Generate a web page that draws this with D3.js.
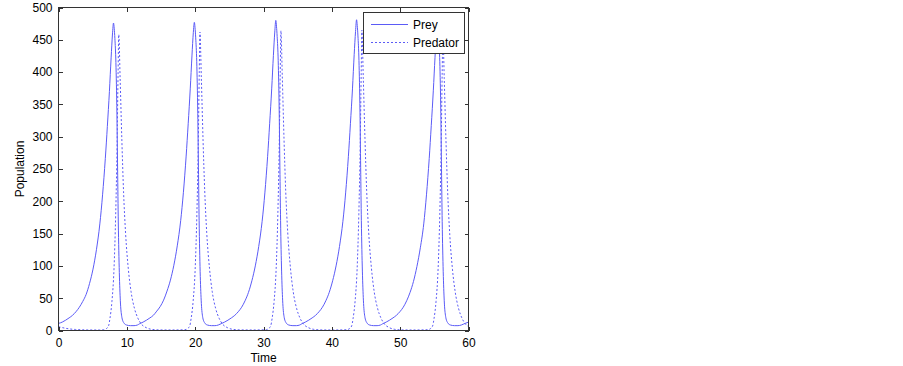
<!DOCTYPE html>
<html>
<head>
<meta charset="utf-8">
<script src="https://d3js.org/d3.v7.min.js"></script>
<style>
  body { margin: 0; background: #fff; }
  text { font-family: "Liberation Sans", Arial, sans-serif; font-size: 12px; fill: #000; }
</style>
</head>
<body>
<script>
// values: [time, population]
const prey = [
  [0, 11], [0.55, 13], [1.05, 16], [1.55, 19.5], [2.05, 23.5], [2.55, 29], [3.05, 36], [3.55, 45],
  [4.05, 56], [4.55, 73], [5.05, 95], [5.55, 125], [6.05, 165], [6.45, 210], [6.85, 266], [7.15, 316],
  [7.45, 370], [7.7, 422], [7.9, 459], [8.05, 476], [8.15, 468], [8.25, 452], [8.4, 415], [8.55, 335],
  [8.65, 250], [8.75, 168], [8.9, 90], [9.05, 46], [9.25, 22], [9.55, 12], [9.95, 8.5], [10.55, 7.5],
  [11.05, 7.5], [11.55, 8.5],
  [11.88, 10.5], [12.38, 13], [12.88, 16], [13.38, 19.5], [13.88, 23.5], [14.38, 30], [14.88, 37], [15.38, 47],
  [15.88, 61], [16.38, 78], [16.88, 101], [17.38, 131], [17.88, 170], [18.28, 214], [18.68, 270], [18.98, 320],
  [19.28, 374], [19.53, 425], [19.73, 461], [19.88, 477], [19.98, 469], [20.08, 453], [20.23, 416], [20.38, 336],
  [20.48, 252], [20.58, 170], [20.73, 91], [20.88, 47], [21.08, 22], [21.38, 12], [21.78, 8.5], [22.38, 7.5],
  [22.88, 7.5], [23.38, 8.5],
  [23.8, 10.5], [24.3, 13], [24.8, 16], [25.3, 19.5], [25.8, 23.5], [26.3, 29], [26.8, 36], [27.3, 46],
  [27.8, 59], [28.3, 77], [28.8, 100], [29.3, 130], [29.8, 169], [30.2, 213], [30.6, 269], [30.9, 320],
  [31.2, 374], [31.45, 426], [31.65, 462], [31.8, 480], [31.9, 471], [32.0, 455], [32.15, 418], [32.3, 338],
  [32.4, 252], [32.5, 170], [32.65, 92], [32.8, 47], [33.0, 22], [33.3, 12], [33.7, 8.5], [34.3, 7.5],
  [34.8, 7.5], [35.3, 8.5],
  [35.62, 10.5], [36.12, 13], [36.62, 16], [37.12, 19.5], [37.62, 23.5], [38.12, 29], [38.62, 36], [39.12, 46],
  [39.62, 59], [40.12, 77], [40.62, 100], [41.12, 130], [41.62, 169], [42.02, 213], [42.42, 269], [42.72, 320],
  [43.02, 374], [43.27, 427], [43.47, 463], [43.62, 481], [43.72, 472], [43.82, 456], [43.97, 418], [44.12, 338],
  [44.22, 252], [44.32, 170], [44.47, 92], [44.62, 47], [44.82, 22], [45.12, 12], [45.52, 8.5], [46.12, 7.5],
  [46.62, 7.5], [47.12, 8.5],
  [47.45, 10.5], [47.95, 13], [48.45, 16], [48.95, 19.5], [49.45, 23.5], [49.95, 29], [50.45, 36], [50.95, 46],
  [51.45, 59], [51.95, 76], [52.45, 99], [52.95, 128], [53.45, 165], [53.85, 210], [54.25, 266], [54.55, 317],
  [54.85, 371], [55.1, 423], [55.3, 459], [55.45, 478], [55.55, 469], [55.65, 453], [55.8, 416], [55.95, 336],
  [56.05, 251], [56.15, 169], [56.3, 91], [56.45, 46], [56.65, 22], [56.95, 12], [57.35, 8.5], [57.95, 7.5],
  [58.45, 7.5], [58.95, 8.5], [59.5, 11], [60, 13]
];

const predator = [
  [0, 6], [0.5, 4.6], [1, 3.5], [1.5, 2.6], [2, 2], [2.5, 1.6], [3, 1.3], [3.5, 1.1],
  [4.2, 0.9], [5, 0.8], [6, 0.8], [6.62, 1.2], [7.02, 3], [7.32, 7], [7.52, 18], [7.82, 45],
  [8.12, 95], [8.37, 180], [8.57, 285], [8.72, 400], [8.82, 458], [9.02, 390], [9.27, 295], [9.52, 215],
  [9.82, 150], [10.22, 95], [10.62, 60], [11.12, 34], [11.62, 19], [12.12, 10], [12.82, 4.5], [13.62, 1.8],
  [14.82, 0.9], [16.5, 0.8],
  [18.5, 1.2], [18.9, 3], [19.2, 7], [19.4, 18], [19.7, 45], [20.0, 95], [20.25, 180], [20.45, 285],
  [20.6, 400], [20.7, 462], [20.9, 392], [21.15, 296], [21.4, 216], [21.7, 150], [22.1, 96], [22.5, 60],
  [23.0, 34], [23.5, 19], [24.0, 10], [24.7, 4.5], [25.5, 1.8], [26.7, 0.9], [28.5, 0.8],
  [30.35, 1.2], [30.75, 3], [31.05, 7], [31.25, 18], [31.55, 45], [31.85, 95], [32.1, 180], [32.3, 285],
  [32.45, 400], [32.55, 464], [32.75, 393], [33.0, 297], [33.25, 216], [33.55, 151], [33.95, 96], [34.35, 60],
  [34.85, 34], [35.35, 19], [35.85, 10], [36.55, 4.5], [37.35, 1.8], [38.55, 0.9], [40.3, 0.8],
  [42.2, 1.2], [42.6, 3], [42.9, 7], [43.1, 18], [43.4, 45], [43.7, 95], [43.95, 180], [44.15, 285],
  [44.3, 400], [44.4, 465], [44.6, 392], [44.85, 297], [45.1, 216], [45.4, 151], [45.8, 96], [46.2, 60],
  [46.7, 34], [47.2, 19], [47.7, 10], [48.4, 4.5], [49.2, 1.8], [50.4, 0.9], [52.2, 0.8],
  [54.05, 1.2], [54.45, 3], [54.75, 7], [54.95, 18], [55.25, 45], [55.55, 95], [55.8, 180], [56.0, 285],
  [56.15, 400], [56.25, 462], [56.45, 390], [56.7, 295], [56.95, 215], [57.25, 150], [57.65, 95], [58.05, 60],
  [58.55, 34], [59.05, 19], [59.55, 10], [60, 6]
];

const xTicks = [0, 10, 20, 30, 40, 50, 60];
const yTicks = [0, 50, 100, 150, 200, 250, 300, 350, 400, 450, 500];
const seriesNames = ["Prey", "Predator"];

const lineColor = "#5b5bf6";
const W = 903, H = 366;
const plotL = 58.5, plotR = 468.5, plotT = 7.5, plotB = 330.5;

const svg = d3.select("body").append("svg")
  .attr("width", W)
  .attr("height", H);

const x = d3.scaleLinear().domain([0, 60]).range([plotL, plotR]);
const y = d3.scaleLinear().domain([0, 500]).range([plotB, plotT]);

svg.append("clipPath").attr("id", "plot")
  .append("rect")
  .attr("x", plotL).attr("y", plotT)
  .attr("width", plotR - plotL).attr("height", plotB - plotT);

const line = d3.line()
  .x(d => x(d[0]))
  .y(d => y(d[1]))
  .curve(d3.curveMonotoneX);

const g = svg.append("g").attr("clip-path", "url(#plot)");

g.append("path")
  .datum(prey)
  .attr("fill", "none")
  .attr("stroke", lineColor)
  .attr("stroke-width", 1)
  .attr("d", line);

g.append("path")
  .datum(predator)
  .attr("fill", "none")
  .attr("stroke", lineColor)
  .attr("stroke-width", 1)
  .attr("stroke-dasharray", "2,2")
  .attr("d", line);

// axes: ticks pointing inward, on all four sides
const tickLen = 4;
svg.append("g")
  .attr("transform", `translate(0,${plotB})`)
  .call(d3.axisBottom(x).tickValues(xTicks).tickSizeInner(-tickLen).tickSizeOuter(0).tickPadding(8))
  .call(a => a.select(".domain").remove());
svg.append("g")
  .attr("transform", `translate(0,${plotT})`)
  .call(d3.axisTop(x).tickValues(xTicks).tickSizeInner(-tickLen).tickSizeOuter(0).tickFormat(""))
  .call(a => a.select(".domain").remove());
svg.append("g")
  .attr("transform", `translate(${plotL},0)`)
  .call(d3.axisLeft(y).tickValues(yTicks).tickSizeInner(-tickLen).tickSizeOuter(0).tickPadding(6))
  .call(a => a.select(".domain").remove());
svg.append("g")
  .attr("transform", `translate(${plotR},0)`)
  .call(d3.axisRight(y).tickValues(yTicks).tickSizeInner(-tickLen).tickSizeOuter(0).tickFormat(""))
  .call(a => a.select(".domain").remove());

svg.selectAll(".tick line").attr("stroke", "#333").attr("shape-rendering", "crispEdges");
svg.selectAll(".tick text")
  .style("font-family", "'Liberation Sans', Arial, sans-serif")
  .style("font-size", "12px")
  .attr("fill", "#000");

svg.append("rect")
  .attr("x", plotL).attr("y", plotT)
  .attr("width", plotR - plotL).attr("height", plotB - plotT)
  .attr("fill", "none")
  .attr("stroke", "#333")
  .attr("shape-rendering", "crispEdges");

// axis titles
svg.append("text")
  .attr("x", (plotL + plotR) / 2)
  .attr("y", 362)
  .attr("text-anchor", "middle")
  .text("Time");

svg.append("text")
  .attr("transform", `translate(24,${(plotT + plotB) / 2}) rotate(-90)`)
  .attr("text-anchor", "middle")
  .text("Population");

// legend
const lg = svg.append("g");
lg.append("rect")
  .attr("x", 363.5).attr("y", 12.5)
  .attr("width", 101).attr("height", 41)
  .attr("fill", "#fff")
  .attr("stroke", "#333")
  .attr("shape-rendering", "crispEdges");

lg.selectAll("line.key")
  .data(seriesNames)
  .enter()
  .append("line")
  .attr("class", "key")
  .attr("x1", 371).attr("x2", 408)
  .attr("y1", (d, i) => 24.5 + i * 18)
  .attr("y2", (d, i) => 24.5 + i * 18)
  .attr("stroke", lineColor)
  .attr("stroke-width", 1)
  .attr("stroke-dasharray", (d, i) => i === 1 ? "2,2" : null);

lg.selectAll("text.key")
  .data(seriesNames)
  .enter()
  .append("text")
  .attr("class", "key")
  .attr("x", 413)
  .attr("y", (d, i) => 29 + i * 18)
  .text(d => d);
</script>
</body>
</html>
